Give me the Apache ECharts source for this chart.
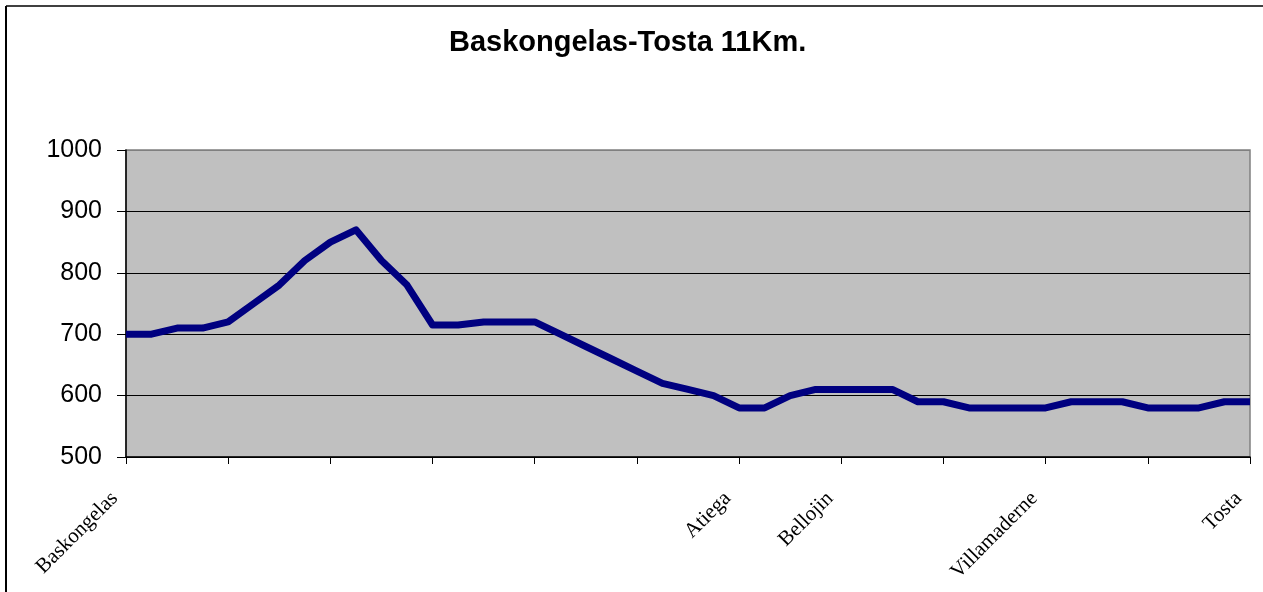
<!DOCTYPE html>
<html>
<head>
<meta charset="utf-8">
<script src="https://cdn.jsdelivr.net/npm/echarts@6/dist/echarts.min.js"></script>
<style>
html,body{margin:0;padding:0;background:#fff;}
#chart{width:1263px;height:592px;}
</style>
</head>
<body>
<div id="chart"></div>
<script>
const title = 'Baskongelas-Tosta 11Km.';
const categories = [
  'Baskongelas','','','','','','','','','','','','','','','','','','','','','','','',
  'Atiega','','','','Bellojin','','','','','','','','Villamaderne','','','','','','','','Tosta'
];
const altitude = [
  700,700,710,710,720,750,780,820,850,870,820,780,715,715,720,720,720,700,680,660,640,620,610,600,
  580,580,600,610,610,610,610,590,590,580,580,580,580,590,590,590,580,580,580,590,590
];
const yMin = 500, yMax = 1000, yStep = 100;

const chart = echarts.init(document.getElementById('chart'), null, {renderer:'canvas'});
chart.setOption({
  animation:false,
  backgroundColor:'#ffffff',
  title:{
    text:title,
    left:444,
    top:23,
    textStyle:{fontFamily:'Liberation Sans, Arial, sans-serif',fontSize:29,fontWeight:'bold',color:'#000'}
  },
  graphic:[
    {type:'line',shape:{x1:6,y1:6,x2:1263,y2:6},style:{stroke:'#000',lineWidth:1.5}},
    {type:'line',shape:{x1:6,y1:6,x2:6,y2:592},style:{stroke:'#000',lineWidth:2}}
  ],
  grid:{
    left:126,right:13,top:150,bottom:135,
    show:true,backgroundColor:'#c0c0c0',borderColor:'#808080',borderWidth:1.5
  },
  xAxis:{
    type:'category',
    data:categories,
    boundaryGap:false,
    axisLine:{lineStyle:{color:'#000',width:1.5}},
    axisTick:{interval:3,length:7,lineStyle:{color:'#000'}},
    axisLabel:{interval:0,rotate:45,margin:27,padding:[0,16,0,0],fontFamily:'Liberation Serif, Times New Roman, serif',fontSize:21,color:'#000'},
    splitLine:{show:false}
  },
  yAxis:{
    type:'value',
    min:yMin,max:yMax,interval:yStep,
    axisLine:{show:true,lineStyle:{color:'#000',width:1.5}},
    axisTick:{show:true,length:9,lineStyle:{color:'#000'}},
    axisLabel:{margin:24,formatter:function(v){return String(v);},fontFamily:'Liberation Sans, Arial, sans-serif',fontSize:25,color:'#000'},
    splitLine:{show:true,lineStyle:{color:['#000','#000','#000','#000','#000','#808080'],width:1}}
  },
  series:[{
    type:'line',
    data:altitude,
    showSymbol:false,
    symbol:'none',
    lineStyle:{color:'#000080',width:7,join:'round'},
    itemStyle:{color:'#000080'}
  }]
});
</script>
</body>
</html>
